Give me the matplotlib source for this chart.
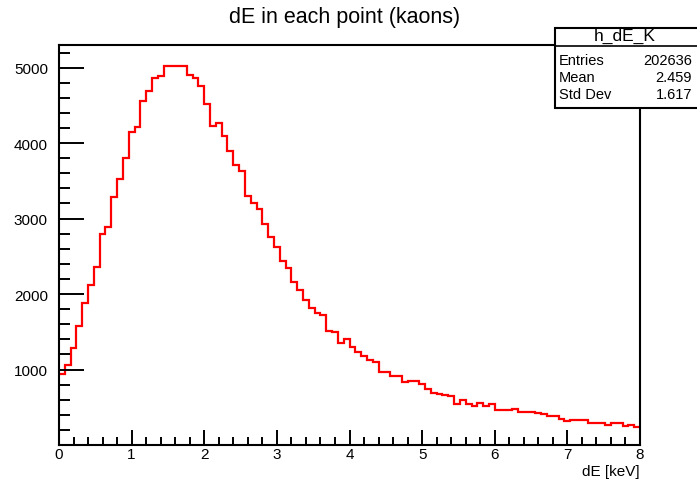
import numpy as np
import matplotlib
matplotlib.use('Agg')
import matplotlib.pyplot as plt
from matplotlib.patches import Rectangle
from matplotlib.ticker import MultipleLocator

plt.rcParams['font.family'] = ['Liberation Sans', 'DejaVu Sans']

# histogram h_dE_K: 100 bins from 0 to 8 keV
x_min, x_max, n_bins = 0.0, 8.0, 100
counts = [
    940, 1066, 1288, 1575, 1875, 2114, 2357, 2799, 2887, 3285,
    3529, 3798, 4147, 4214, 4563, 4687, 4869, 4890, 5020, 5025,
    5025, 5020, 4903, 4869, 4757, 4524, 4227, 4260, 4094, 3895,
    3710, 3630, 3299, 3211, 3122, 2932, 2755, 2622, 2436, 2348,
    2163, 2055, 1917, 1818, 1752, 1716, 1505, 1500, 1354, 1407,
    1292, 1232, 1177, 1128, 1106, 972, 970, 915, 912, 839,
    850, 854, 808, 744, 690, 680, 657, 655, 545, 602,
    546, 518, 553, 515, 543, 470, 470, 468, 483, 436,
    434, 432, 430, 410, 387, 382, 346, 314, 328, 337,
    334, 292, 290, 290, 265, 292, 290, 248, 265, 235,
]
stat_names = ['Entries', 'Mean', 'Std Dev']
stat_values = ['202636', '2.459', '1.617']
hist_name = 'h_dE_K'

W, H = 697, 485
fig = plt.figure(figsize=(W / 100, H / 100), dpi=100)
ax = fig.add_axes([59 / W, (H - 446) / H, (640 - 59) / W, (446 - 46) / H])

edges = np.linspace(x_min, x_max, n_bins + 1)
ax.stairs(counts, edges, color='#ff0000', lw=1.6, baseline=None)

ax.set_xlim(x_min, x_max)
ax.set_ylim(0, 5300)

ax.xaxis.set_major_locator(MultipleLocator(1))
ax.xaxis.set_minor_locator(MultipleLocator(0.2))
ax.yaxis.set_major_locator(MultipleLocator(1000))
ax.yaxis.set_minor_locator(MultipleLocator(200))
ax.set_yticks([1000, 2000, 3000, 4000, 5000])

ax.tick_params(axis='x', which='major', direction='in', length=11, width=1.4,
               labelsize=11, pad=1.5, top=False)
ax.tick_params(axis='x', which='minor', direction='in', length=5.5, width=1.4, top=False)
ax.tick_params(axis='y', which='major', direction='in', length=18, width=1.4,
               labelsize=11, pad=8, right=False)
ax.tick_params(axis='y', which='minor', direction='in', length=8, width=1.4, right=False)
for sp in ax.spines.values():
    sp.set_linewidth(1.5)

fig.text(640 / W, 1 - 472 / H, 'dE [keV]', ha='right', va='center', fontsize=11)
fig.text(345 / W, 1 - 18 / H, 'dE in each point (kaons)', ha='center', va='center',
         fontsize=15.5)

# stats box on an overlay so it hides the frame corner
ov = fig.add_axes([0, 0, 1, 1], zorder=10)
ov.set_xlim(0, W)
ov.set_ylim(H, 0)
ov.axis('off')
ov.patch.set_alpha(0)
bx0, bx1, by0, by1 = 555, 699, 29, 109
ov.add_patch(Rectangle((bx0, by0), bx1 - bx0, by1 - by0, facecolor='white',
                       edgecolor='black', lw=1.5, clip_on=False))
ov.plot([bx0, W], [47, 47], color='black', lw=1.2, clip_on=False)
ov.text(625, 36, hist_name, ha='center', va='center', fontsize=12.5)
for i, (nm, val) in enumerate(zip(stat_names, stat_values)):
    yy = 61 + 17 * i
    ov.text(559, yy, nm, ha='left', va='center', fontsize=10.5)
    ov.text(692, yy, val, ha='right', va='center', fontsize=10.5)

fig.savefig('out.png', dpi=100, facecolor='white')
